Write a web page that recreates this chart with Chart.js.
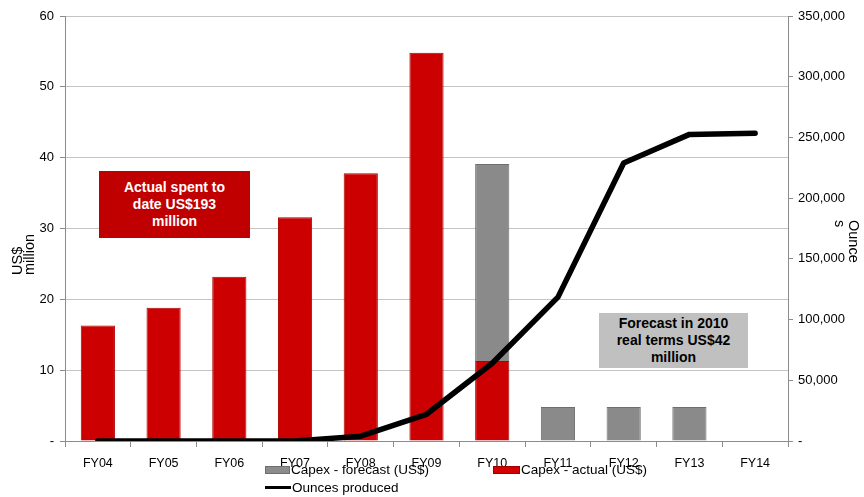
<!DOCTYPE html>
<html>
<head>
<meta charset="utf-8">
<script src="https://cdn.jsdelivr.net/npm/chart.js@4.4.1/dist/chart.umd.min.js"></script>
<style>
  html, body { margin: 0; padding: 0; background: #fff; }
  #wrap { position: relative; width: 864px; height: 497px; font-family: "Liberation Sans", Arial, sans-serif; }
  #c { position: absolute; left: 0; top: 0; }
  .box { position: absolute; font-weight: bold; font-size: 14px; line-height: 17px; text-align: center; box-sizing: border-box; display: flex; align-items: center; justify-content: center; }
  .rot { position: absolute; font-size: 14.5px; color: #000; white-space: nowrap; line-height: 13px; }
  .leg { position: absolute; font-size: 13.5px; color: #000; white-space: nowrap; line-height: 14px; }
  .sw { position: absolute; }
</style>
</head>
<body>
<div id="wrap">
  <canvas id="c" width="864" height="497"></canvas>
  <div class="box" style="left:99px;top:171px;width:151px;height:67px;background:#c00000;color:#fff;">Actual spent to<br>date US$193<br>million</div>
  <div class="box" style="left:599px;top:313px;width:149px;height:55px;background:#c0c0c0;color:#000;">Forecast in 2010<br>real terms US$42<br>million</div>

  <div class="rot" style="left:11px;top:275px;transform-origin:0 0;transform:rotate(-90deg);">US$</div>
  <div class="rot" style="left:23px;top:275px;transform-origin:0 0;transform:rotate(-90deg);">million</div>
  <div class="rot" style="left:860px;top:220px;transform-origin:0 0;transform:rotate(90deg);">Ounce</div>
  <div class="rot" style="left:846px;top:220px;transform-origin:0 0;transform:rotate(90deg);">s</div>

  <div class="sw" style="left:265px;top:466px;width:25px;height:8px;background:#8c8c8c;border:1px solid #6e6e6e;box-sizing:border-box;"></div>
  <div class="leg" style="left:291px;top:463px;">Capex - forecast (US$)</div>
  <div class="sw" style="left:493px;top:466px;width:27px;height:8px;background:#d40000;border:1px solid #a00000;box-sizing:border-box;"></div>
  <div class="leg" style="left:521px;top:463px;">Capex - actual (US$)</div>
  <div class="sw" style="left:265px;top:486px;width:26px;height:3px;background:#000;"></div>
  <div class="leg" style="left:292px;top:481px;">Ounces produced</div>
</div>
<script>
const categories = ["FY04","FY05","FY06","FY07","FY08","FY09","FY10","FY11","FY12","FY13","FY14"];
const capexActual = [16.3, 18.8, 23.2, 31.6, 37.8, 54.8, 11.3, null, null, null, null];
const capexForecast = [null, null, null, null, null, null, 27.8, 4.8, 4.8, 4.8, null];
const ouncesProduced = [0, 0, 0, 0, 4000, 22000, 64000, 118500, 229000, 252500, 253500];
const leftTicks = [0, 10, 20, 30, 40, 50, 60];
const rightTicks = [0, 50000, 100000, 150000, 200000, 250000, 300000, 350000];

const tickFont = { family: "'Liberation Sans', Arial, sans-serif", size: 13 };

new Chart(document.getElementById('c'), {
  type: 'bar',
  data: {
    labels: categories,
    datasets: [
      {
        type: 'line', label: 'Ounces produced', data: ouncesProduced, yAxisID: 'y1',
        borderColor: '#000', borderWidth: 5.5, pointRadius: 0, tension: 0,
        borderCapStyle: 'round', borderJoinStyle: 'round', order: 0, fill: false
      },
      {
        label: 'Capex - actual (US$)', data: capexActual, yAxisID: 'y', stack: 's',
        backgroundColor: '#cc0000', borderColor: '#b20000', borderWidth: 1, order: 1,
        categoryPercentage: 1, barPercentage: 0.52
      },
      {
        label: 'Capex - forecast (US$)', data: capexForecast, yAxisID: 'y', stack: 's',
        backgroundColor: '#8a8a8a', borderColor: '#6f6f6f', borderWidth: 1, order: 2,
        categoryPercentage: 1, barPercentage: 0.52
      }
    ]
  },
  options: {
    responsive: false,
    animation: false,
    layout: { padding: { top: 16, left: 0, right: 0, bottom: 0 } },
    plugins: { legend: { display: false }, tooltip: { enabled: false } },
    scales: {
      x: {
        stacked: true,
        offset: true,
        grid: { offset: true, drawOnChartArea: false, color: '#8c8c8c', tickLength: 6 },
        border: { color: '#8c8c8c' },
        ticks: { font: { ...tickFont, size: 12.5 }, color: '#000', padding: 9, maxRotation: 0 },
        afterFit: s => { s.height = 56; }
      },
      y: {
        stacked: true,
        position: 'left',
        min: 0, max: 60,
        afterBuildTicks: s => { s.ticks = leftTicks.map(v => ({ value: v })); },
        grid: { color: '#c4c4c4', tickColor: '#8c8c8c', tickLength: 5 },
        border: { color: '#8c8c8c' },
        ticks: { font: tickFont, color: '#000', padding: 6, callback: v => v === 0 ? '-' : String(v) },
        afterFit: s => { s.width = 65; }
      },
      y1: {
        position: 'right',
        min: 0, max: 350000,
        afterBuildTicks: s => { s.ticks = rightTicks.map(v => ({ value: v })); },
        grid: { drawOnChartArea: false, color: '#8c8c8c', tickLength: 5 },
        border: { color: '#8c8c8c' },
        ticks: { font: tickFont, color: '#000', padding: 5, callback: v => v === 0 ? '-' : v.toLocaleString('en-US') },
        afterFit: s => { s.width = 76; }
      }
    }
  }
});
</script>
</body>
</html>
